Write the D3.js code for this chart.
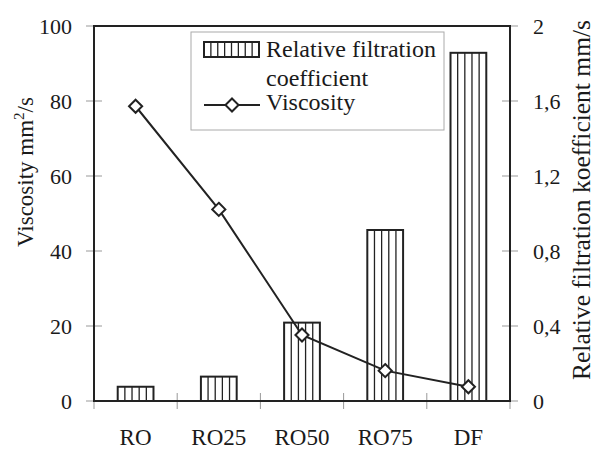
<!DOCTYPE html>
<html>
<head>
<meta charset="utf-8">
<script src="https://cdn.jsdelivr.net/npm/d3@7"></script>
<style>
  body { margin: 0; background: #fff; }
  svg text { font-family: "Liberation Serif", "Times New Roman", Times, serif; fill: #1a1a1a; }
</style>
</head>
<body>
<div id="chart"></div>
<script>
// data
var categories = ["RO", "RO25", "RO50", "RO75", "DF"];
var filtration = [0.076, 0.13, 0.418, 0.912, 1.857];   // right axis, mm/s
var viscosity = [78.6, 51.1, 17.6, 8.1, 3.8];           // left axis, mm2/s
var leftTicks = [0, 20, 40, 60, 80, 100];
var rightTicks = [0, 0.4, 0.8, 1.2, 1.6, 2];

var width = 602,
    height = 449;

var plot = { left: 94, right: 510, top: 26, bottom: 401 };

var svg = d3.select("#chart").append("svg")
    .attr("width", width)
    .attr("height", height)
    .attr("font-family", "'Liberation Serif', 'Times New Roman', serif");

var x = d3.scaleBand()
    .domain(categories)
    .range([plot.left, plot.right]);

var yL = d3.scaleLinear().domain([0, 100]).range([plot.bottom, plot.top]);
var yR = d3.scaleLinear().domain([0, 2]).range([plot.bottom, plot.top]);

var barW = x.bandwidth() * 0.43;

// tick marks (thin grey, crossing the axes)
svg.selectAll(".ltick")
    .data(leftTicks)
    .enter().append("line")
    .attr("x1", plot.left - 8).attr("x2", plot.left + 8)
    .attr("y1", function(d) { return yL(d); })
    .attr("y2", function(d) { return yL(d); })
    .attr("stroke", "#999").attr("stroke-width", 1);

svg.selectAll(".rtick")
    .data(rightTicks)
    .enter().append("line")
    .attr("x1", plot.right - 8).attr("x2", plot.right + 8)
    .attr("y1", function(d) { return yR(d); })
    .attr("y2", function(d) { return yR(d); })
    .attr("stroke", "#999").attr("stroke-width", 1);

var bounds = categories.map(function(c) { return x(c); }).concat([plot.right]);
svg.selectAll(".xtick")
    .data(bounds)
    .enter().append("line")
    .attr("x1", function(d) { return d; }).attr("x2", function(d) { return d; })
    .attr("y1", plot.bottom - 8).attr("y2", plot.bottom + 8)
    .attr("stroke", "#999").attr("stroke-width", 1);

// bars with vertical hatching
var bars = svg.selectAll(".bar")
    .data(filtration)
    .enter().append("g")
    .attr("class", "bar");

bars.append("rect")
    .attr("x", function(d, i) { return x(categories[i]) + (x.bandwidth() - barW) / 2; })
    .attr("y", function(d) { return yR(d); })
    .attr("width", barW)
    .attr("height", function(d) { return plot.bottom - yR(d); })
    .attr("fill", "#fff");

bars.each(function(d, i) {
    var x0 = x(categories[i]) + (x.bandwidth() - barW) / 2;
    d3.select(this).selectAll("line")
        .data(d3.range(1, 5))
        .enter().append("line")
        .attr("x1", function(k) { return x0 + k * barW / 5; })
        .attr("x2", function(k) { return x0 + k * barW / 5; })
        .attr("y1", yR(d))
        .attr("y2", plot.bottom)
        .attr("stroke", "#222")
        .attr("stroke-width", 1.3);
});

bars.append("rect")
    .attr("x", function(d, i) { return x(categories[i]) + (x.bandwidth() - barW) / 2; })
    .attr("y", function(d) { return yR(d); })
    .attr("width", barW)
    .attr("height", function(d) { return plot.bottom - yR(d); })
    .attr("fill", "none")
    .attr("stroke", "#222")
    .attr("stroke-width", 2);

// frame
svg.append("rect")
    .attr("x", plot.left).attr("y", plot.top)
    .attr("width", plot.right - plot.left)
    .attr("height", plot.bottom - plot.top)
    .attr("fill", "none")
    .attr("stroke", "#222")
    .attr("stroke-width", 2);

// viscosity line (straight segments)
var line = d3.line()
    .x(function(d, i) { return x(categories[i]) + x.bandwidth() / 2; })
    .y(function(d) { return yL(d); });

svg.append("path")
    .datum(viscosity)
    .attr("d", line)
    .attr("fill", "none")
    .attr("stroke", "#222")
    .attr("stroke-width", 2);

var diamond = d3.symbol().type(d3.symbolDiamond2).size(110);

svg.selectAll(".pt")
    .data(viscosity)
    .enter().append("path")
    .attr("d", diamond)
    .attr("transform", function(d, i) {
        return "translate(" + (x(categories[i]) + x.bandwidth() / 2) + "," + yL(d) + ")";
    })
    .attr("fill", "#fff")
    .attr("stroke", "#222")
    .attr("stroke-width", 2);

// tick labels
svg.selectAll(".llab")
    .data(leftTicks)
    .enter().append("text")
    .attr("x", 72)
    .attr("y", function(d) { return yL(d); })
    .attr("dy", "0.35em")
    .attr("text-anchor", "end")
    .style("font-size", "22px")
    .text(function(d) { return d; });

svg.selectAll(".rlab")
    .data(rightTicks)
    .enter().append("text")
    .attr("x", 533)
    .attr("y", function(d) { return yR(d); })
    .attr("dy", "0.35em")
    .style("font-size", "22px")
    .text(function(d) { return String(d).replace(".", ","); });

svg.selectAll(".xlab")
    .data(categories)
    .enter().append("text")
    .attr("x", function(d) { return x(d) + x.bandwidth() / 2; })
    .attr("y", 445)
    .attr("text-anchor", "middle")
    .style("font-size", "23px")
    .text(function(d) { return d; });

// axis titles
var lt = svg.append("text")
    .attr("transform", "translate(33,172) rotate(-90)")
    .attr("text-anchor", "middle")
    .style("font-size", "23px");
lt.append("tspan").text("Viscosity mm");
lt.append("tspan").attr("dy", -9).style("font-size", "15px").text("2");
lt.append("tspan").attr("dy", 9).text("/s");

svg.append("text")
    .attr("transform", "translate(590,200) rotate(-90)")
    .attr("text-anchor", "middle")
    .style("font-size", "25.5px")
    .text("Relative filtration koefficient mm/s");

// legend
var legend = svg.append("g");

legend.append("rect")
    .attr("x", 191).attr("y", 32)
    .attr("width", 253).attr("height", 98)
    .attr("fill", "#fff")
    .attr("stroke", "#aaa")
    .attr("stroke-width", 1);

legend.append("rect")
    .attr("x", 204).attr("y", 42)
    .attr("width", 55).attr("height", 15)
    .attr("fill", "#fff")
    .attr("stroke", "#222")
    .attr("stroke-width", 2);

legend.selectAll(".lh")
    .data(d3.range(1, 8))
    .enter().append("line")
    .attr("x1", function(k) { return 204 + k * 55 / 8; })
    .attr("x2", function(k) { return 204 + k * 55 / 8; })
    .attr("y1", 42).attr("y2", 57)
    .attr("stroke", "#222").attr("stroke-width", 1.3);

legend.append("line")
    .attr("x1", 204).attr("x2", 260)
    .attr("y1", 105).attr("y2", 105)
    .attr("stroke", "#222").attr("stroke-width", 2);

legend.append("path")
    .attr("d", diamond)
    .attr("transform", "translate(232,105)")
    .attr("fill", "#fff")
    .attr("stroke", "#222")
    .attr("stroke-width", 2);

legend.append("text").attr("x", 266).attr("y", 57)
    .style("font-size", "24px").text("Relative filtration");
legend.append("text").attr("x", 266).attr("y", 86)
    .style("font-size", "24px").text("coefficient");
legend.append("text").attr("x", 266).attr("y", 110)
    .style("font-size", "24px").text("Viscosity");
</script>
</body>
</html>
